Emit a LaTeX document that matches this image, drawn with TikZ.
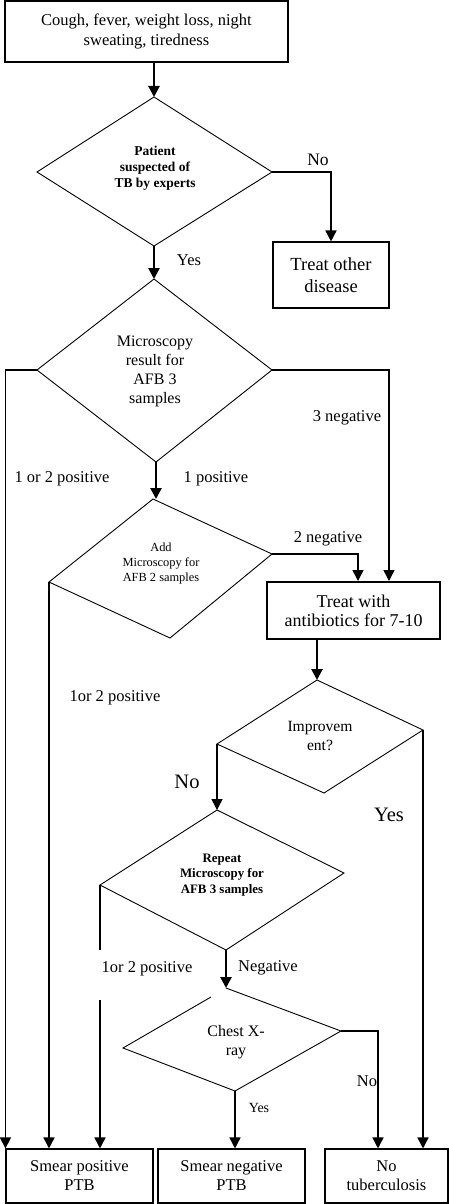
\documentclass[tikz,border=0pt]{standalone}
\usepackage{fontspec}
\setmainfont{Liberation Serif}
\usetikzlibrary{arrows.meta,positioning}

\begin{document}
\begin{tikzpicture}[x=1pt,y=-1pt,
  box/.style={draw=black,line width=1.1pt,align=center,inner sep=0pt},
  endbox/.style={box,minimum height=54pt,font=\fontsize{16.5}{19}\selectfont},
  decision/.style={draw=black,line width=.9pt},
  qtext/.style={align=center,inner sep=0pt},
  link/.style={draw=black,line width=1.5pt},
  flow/.style={link,-{Triangle[length=11pt,width=11pt]}},
  heavyflow/.style={flow,line width=2.6pt},
  lab/.style={font=\fontsize{16.5}{19}\selectfont,inner sep=0pt}
]
 \path[use as bounding box] (0,0) rectangle (449,1204);

 % Start box and first question
 \node[box,minimum width=283pt,minimum height=61pt,
   font=\fontsize{16.5}{20}\selectfont] (cough) at (146.5,31.5)
   {Cough, fever, weight loss, night\\sweating, tiredness};

 \coordinate (susT) at (154,97);  \coordinate (susR) at (272,172);
 \coordinate (susB) at (154,246); \coordinate (susL) at (37,172);
 \draw[decision] (susT) -- (susR) -- (susB) -- (susL) -- cycle;
 \node[qtext,font=\bfseries\fontsize{13.5}{16}\selectfont] (susTxt) at (155,168)
   {Patient\\suspected of\\TB by experts};

 \node[box,minimum width=116pt,minimum height=66pt,
   font=\fontsize{18.5}{22}\selectfont] (other) at (331,275)
   {Treat other\\disease};

 \draw[heavyflow] (cough.south -| susT) -- (susT);
 \draw[flow] (susR) -| (other.north);
 \node[lab,font=\fontsize{17.5}{19}\selectfont] (susNo) at (318,160) {No};
 \node[lab] (susYes) at (189,260) {Yes};

 % Microscopy of three samples
 \coordinate (micT) at (154,279); \coordinate (micR) at (272,370);
 \coordinate (micB) at (156,462); \coordinate (micL) at (37,370);
 \draw[decision] (micT) -- (micR) -- (micB) -- (micL) -- cycle;
 \node[qtext,font=\fontsize{16}{19}\selectfont] (micTxt) at (155,371)
   {Microscopy\\result for\\AFB 3\\samples};
 \draw[heavyflow] (susB) -- (micT);

 % Additional microscopy
 \coordinate (addT) at (153,499); \coordinate (addR) at (272,554);
 \coordinate (addB) at (170,638); \coordinate (addL) at (49,582);
 \draw[decision] (addT) -- (addR) -- (addB) -- (addL) -- cycle;
 \node[qtext,font=\fontsize{12.4}{15}\selectfont] (addTxt) at (161,564)
   {Add\\Microscopy for\\AFB 2 samples};
 \draw[heavyflow] (micB) -- (micB |- addT);

 \node[box,line width=2pt,minimum width=173pt,minimum height=57pt,
   font=\fontsize{18}{19}\selectfont] (antib) at (353.5,610.5)
   {Treat with\\antibiotics for 7-10};

 \coordinate (negThree) at (389,0);
 \coordinate (negTwo) at (358,0);
 \draw[flow] (micR) -| (negThree |- antib.north);
 \draw[flow] (addR) -| (negTwo |- antib.north);

 \node[lab] (micNeg) at (347,418) {3 negative};
 \node[lab] (micPos) at (62,479) {1 or 2 positive};
 \node[lab] (micOne) at (216,479) {1 positive};
 \node[lab] (addNeg) at (328,539) {2 negative};
 \node[lab] (addPos) at (115,698) {1or 2 positive};

 % Improvement after antibiotics
 \coordinate (impT) at (317,680); \coordinate (impR) at (423,730);
 \coordinate (impB) at (324,793); \coordinate (impL) at (217,744);
 \draw[decision] (impT) -- (impR) -- (impB) -- (impL) -- cycle;
 \node[qtext,font=\fontsize{15.6}{19}\selectfont] (impTxt) at (320,736)
   {Improvem\\ent?};
 \draw[heavyflow] (antib.south -| impT) -- (impT);
 \node[lab,font=\fontsize{20.5}{22}\selectfont] (impNo) at (187,782) {No};
 \node[lab,font=\fontsize{20.5}{22}\selectfont] (impYes) at (389,815) {Yes};

 % Repeated microscopy
 \coordinate (repT) at (217,810); \coordinate (repR) at (344,873);
 \coordinate (repB) at (226,950); \coordinate (repL) at (100,885);
 \draw[decision] (repT) -- (repR) -- (repB) -- (repL) -- cycle;
 \node[qtext,font=\bfseries\fontsize{12.9}{15.5}\selectfont] (repTxt) at (222,875)
   {Repeat\\Microscopy for\\AFB 3 samples};
 \draw[flow] (impL) -- (repT);

 % Chest X-ray
 \coordinate (rayT) at (226,988); \coordinate (rayR) at (341,1031);
 \coordinate (rayB) at (235,1091); \coordinate (rayL) at (123,1048);
 \coordinate (rayG) at (211,997);
 \draw[decision] (rayG) -- (rayL) -- (rayB) -- (rayR) -- (rayT);
 \node[qtext,font=\fontsize{16}{19}\selectfont] (rayTxt) at (236,1042)
   {Chest X-\\ray};
 \draw[heavyflow] (repB) -- (rayT);
 \node[lab] (repNeg) at (268,968) {Negative};
 \node[lab] (repPos) at (147,969) {1or 2 positive};
 \node[lab] (rayNo) at (367,1081) {No};
 \node[lab,font=\fontsize{14}{16}\selectfont] (rayYes) at (259,1108) {Yes};

 % Outcomes
 \node[endbox,minimum width=147pt] (smPos) at (79.5,1176) {Smear positive\\PTB};
 \node[endbox,minimum width=147pt] (smNeg) at (231.5,1176) {Smear negative\\PTB};
 \node[endbox,minimum width=123pt] (noTb) at (386.5,1176) {No\\tuberculosis};

 \draw[flow] (micL) -| (smPos.north west);
 \draw[flow] (addL) -- (addL |- smPos.north);
 \coordinate (gapTop) at (100,950);
 \coordinate (gapBot) at (100,1000);
 \draw[link] (repL) -- (gapTop);
 \draw[flow] (gapBot) -- (gapBot |- smPos.north);
 \draw[flow] (rayB) -- (rayB |- smNeg.north);
 \coordinate (rayNoCol) at (378,0);
 \draw[flow] (rayR) -| (rayNoCol |- noTb.north);
 \draw[flow] (impR) -- (impR |- noTb.north);
\end{tikzpicture}
\end{document}
